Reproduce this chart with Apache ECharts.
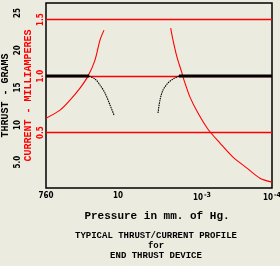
<!DOCTYPE html>
<html>
<head>
<meta charset="utf-8">
<script src="https://cdn.jsdelivr.net/npm/echarts@6/dist/echarts.min.js"></script>
<style>
  html, body { margin: 0; padding: 0; background: #ebebe0; }
  #chart { width: 280px; height: 266px; }
</style>
</head>
<body>
<div id="chart"></div>
<script>
// pressure scale: position along the axis for each labelled pressure
const pressurePos = [0, 72, 156, 226];
const pressureLabels = ['760', '10', '10|-3', '10|-4'];

// current tick labels (mA) and thrust tick labels (grams)
const currentTicks = [0.5, 1.0, 1.5];
const thrustTicks = [5, 10, 15, 20, 25];
const thrustTickLabels = ['5.0', '10', '15', '20', '25'];

// red current curves, [scale position, mA]
const currentLow = [[0, 0.628], [14, 0.699], [24, 0.788], [34, 0.894], [42, 1.0], [49, 1.142], [54, 1.319], [58, 1.407]];
const currentHigh = [[124.7, 1.425], [127, 1.319], [131, 1.168], [136, 1.027], [138, 0.965], [144, 0.814], [152, 0.673],
  [162, 0.53], [174, 0.407], [187, 0.283], [201, 0.186], [214, 0.097], [226, 0.062]];

// black thrust curves, [scale position, grams]
const thrustFlatLow = [[0, 16.55], [43, 16.55]];
const thrustDropLow = [[43, 16.55], [49, 16.15], [54, 15.35], [59, 14.28], [64, 12.67], [68, 11.33]];
const thrustRiseHigh = [[112, 11.6], [114, 13.34], [117, 14.68], [122, 15.62], [127, 16.15], [131, 16.42], [133, 16.55]];
const thrustFlatHigh = [[133, 16.55], [226, 16.55]];

const chart = echarts.init(document.getElementById('chart'));

const labelFont = '"Liberation Sans Narrow", "DejaVu Sans Condensed", sans-serif';
const titleFont = '"Liberation Mono", "DejaVu Sans Mono", monospace';

function redLine(data) {
  return {
    type: 'line', yAxisIndex: 0, data: data, showSymbol: false, smooth: 0.3, z: 3,
    lineStyle: { color: '#ff0000', width: 1.1 }
  };
}
function blackLine(data, w, dash) {
  return {
    type: 'line', yAxisIndex: 1, data: data, showSymbol: false, smooth: 0.3, z: 4,
    lineStyle: { color: '#000', width: w, type: dash || 'solid' }
  };
}

const option = {
  backgroundColor: '#ebebe0',
  animation: false,
  grid: {
    left: 46, top: 3, width: 226, height: 185,
    show: true, borderColor: '#000', borderWidth: 1.5, backgroundColor: 'transparent',
    outerBoundsMode: 'none'
  },
  xAxis: {
    type: 'value', min: 0, max: 226,
    axisLine: { show: false }, axisTick: { show: false }, splitLine: { show: false },
    axisLabel: {
      customValues: pressurePos,
      margin: 4,
      formatter: function (v) {
        const s = pressureLabels[pressurePos.indexOf(v)] || '';
        const p = s.split('|');
        return p.length > 1 ? '{b|' + p[0] + '}{s|' + p[1] + '}' : '{b|' + s + '}';
      },
      rich: {
        b: { fontFamily: labelFont, fontWeight: 'bold', fontSize: 8, color: '#000' },
        s: { fontFamily: labelFont, fontWeight: 'bold', fontSize: 7, color: '#000', padding: [0, 0, 4, 1] }
      }
    }
  },
  yAxis: [
    {
      type: 'value', min: 0.01, max: 1.647, position: 'left',
      axisLine: { show: false }, axisTick: { show: false }, splitLine: { show: false },
      axisLabel: {
        customValues: currentTicks, rotate: 90, margin: 1,
        fontFamily: labelFont, fontWeight: 'bold', fontSize: 8, color: '#ff0000',
        formatter: v => v.toFixed(1)
      },
      name: 'CURRENT - MILLIAMPERES', nameLocation: 'middle', nameRotate: 90, nameGap: 13,
      nameMoveOverlap: false,
      nameTextStyle: { fontFamily: titleFont, fontWeight: 'bold', fontSize: 10, color: '#ff0000' }
    },
    {
      type: 'value', min: 1.54, max: 26.34, position: 'left',
      axisLine: { show: false }, axisTick: { show: false }, splitLine: { show: false },
      axisLabel: {
        customValues: thrustTicks, rotate: 90, margin: 24,
        fontFamily: labelFont, fontWeight: 'bold', fontSize: 8, color: '#000',
        formatter: v => thrustTickLabels[thrustTicks.indexOf(v)]
      },
      name: 'THRUST - GRAMS', nameLocation: 'middle', nameRotate: 90, nameGap: 36,
      nameMoveOverlap: false,
      nameTextStyle: { fontFamily: titleFont, fontWeight: 'bold', fontSize: 10, color: '#000' }
    }
  ],
  series: [
    Object.assign(redLine(currentLow), {
      markLine: {
        silent: true, symbol: 'none', label: { show: false }, z: 2,
        lineStyle: { color: '#ff0000', width: 1.3, type: 'solid' },
        data: currentTicks.map(v => ({ yAxis: v }))
      }
    }),
    redLine(currentHigh),
    blackLine(thrustFlatLow, 3),
    blackLine(thrustDropLow, 1.1, [1.5, 0.8]),
    blackLine(thrustRiseHigh, 1.1, [1.5, 0.8]),
    blackLine(thrustFlatHigh, 3)
  ],
  graphic: [
    { type: 'text', x: 157, y: 216, style: { text: 'Pressure in mm. of Hg.', font: 'bold 11px ' + titleFont, fill: '#000', textAlign: 'center', textVerticalAlign: 'middle' } },
    { type: 'text', x: 156, y: 236, style: { text: 'TYPICAL THRUST/CURRENT PROFILE', font: 'bold 9px ' + titleFont, fill: '#000', textAlign: 'center', textVerticalAlign: 'middle' } },
    { type: 'text', x: 156, y: 246, style: { text: 'for', font: 'bold 9px ' + titleFont, fill: '#000', textAlign: 'center', textVerticalAlign: 'middle' } },
    { type: 'text', x: 156, y: 256, style: { text: 'END THRUST DEVICE', font: 'bold 9px ' + titleFont, fill: '#000', textAlign: 'center', textVerticalAlign: 'middle' } }
  ]
};

chart.setOption(option);
</script>
</body>
</html>
